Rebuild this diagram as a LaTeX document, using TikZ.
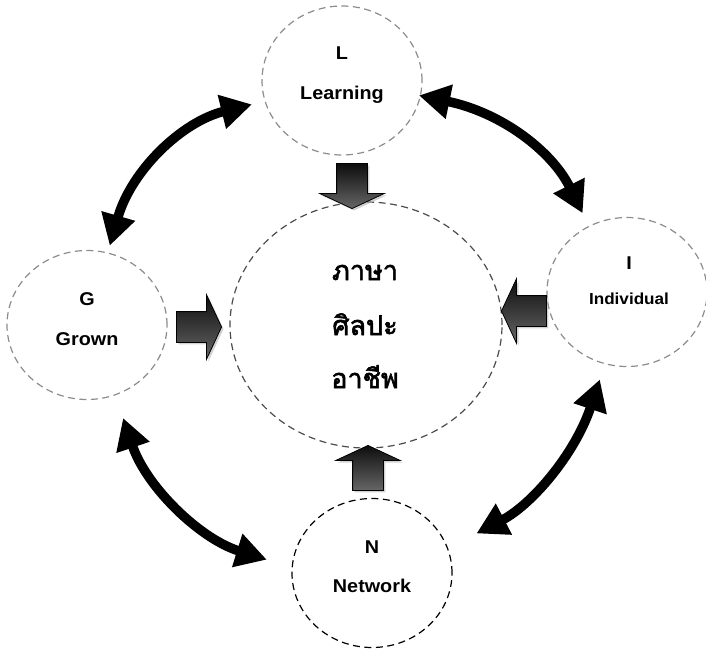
\documentclass[tikz,border=0pt]{standalone}
\usepackage{fontspec}
\setmainfont[FakeStretch=1.07]{Liberation Sans}
\newfontfamily\thaifont[Script=Thai,AutoFakeBold=2.2]{Loma}
\usetikzlibrary{positioning,shapes.geometric,shapes.arrows,shadows,arrows.meta}

\tikzset{
  bubble/.style={ellipse, draw=black!45, line width=1.2pt, dash pattern=on 7pt off 4.5pt,
    minimum width=160pt, minimum height=149pt, inner sep=0pt},
  hub/.style={bubble, draw=black!70, minimum width=272pt, minimum height=246pt},
  netbubble/.style={bubble, draw=black},
  word/.style={font=\bfseries\fontsize{18.5}{20}\selectfont, anchor=base, inner sep=0pt},
  thai/.style={font=\thaifont\bfseries\fontsize{27}{30}\selectfont, anchor=base, inner sep=0pt},
  block/.style={single arrow, draw=black, line width=0.8pt, top color=black!95, bottom color=black!60,
    inner xsep=0pt, inner ysep=15pt, minimum height=45pt, single arrow head extend=17pt,
    single arrow tip angle=130, anchor=tip,
    drop shadow={shadow xshift=2pt, shadow yshift=-2pt, fill=black!35}},
  vblock/.style={block, inner xsep=15pt, inner ysep=0pt},
  link/.style={line width=9.5pt, {Triangle[length=31pt,width=33pt]}-{Triangle[length=31pt,width=33pt]}},
}

\begin{document}
\begin{tikzpicture}[x=1pt,y=1pt]
\useasboundingbox (0,0) rectangle (706,-650);

% the five circles
\node[hub] (C) at (366,-325) {};
\node[bubble] (L) at (342,-80.5) {};
\node[bubble] (G) at (87,-325) {};
\node[bubble] (I) at (627,-292) {};
\node[netbubble] (N) at (372,-573) {};

% texts
\node[word] (Lkey) at (342,-60) {L};
\node[word] (Lname) at (342,-100) {Learning};
\node[word] (Gkey) at (87,-305) {G};
\node[word] (Gname) at (87,-345) {Grown};
\node[word] (Ikey) at (629,-269) {I};
\node[word, font=\bfseries\fontsize{16}{18}\selectfont] (Iname) at (629,-304) {Individual};
\node[word] (Nkey) at (372,-553) {N};
\node[word] (Nname) at (372,-592) {Network};
\node[thai] (core1) at (365,-280) {ภาษา};
\node[thai] (core2) at (365,-335) {ศิลปะ};
\node[thai] (core3) at (365,-388) {อาชีพ};

% block arrows into the middle
\node[vblock, shape border rotate=270] (fromL) at (352,-209) {};
\node[block] (fromG) at (222,-327) {};
\node[block, shape border rotate=180] (fromI) at (501,-311) {};
\node[vblock, shape border rotate=90] (fromN) at (368,-445) {};

% curved links round the ring
\draw[link, shorten <=7pt, shorten >=13pt] (G.74) to[bend left=30] (L.195);
\draw[link, shorten <=-2pt, shorten >=14pt] (L.349) to[bend left=26] (I.120);
\draw[link, shorten <=16pt, shorten >=32pt] (I.253) to[bend left=22] (N.18);
\draw[link, shorten <=26pt, shorten >=24pt] (N.176) to[bend left=27] (G.292);
\end{tikzpicture}
\end{document}
